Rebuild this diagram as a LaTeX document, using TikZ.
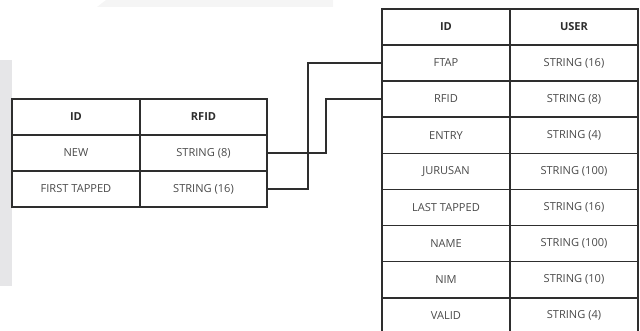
\documentclass[tikz,border=0pt]{standalone}
\usepackage{fontspec}
\setmainfont{Open Sans}
\definecolor{linec}{HTML}{2E2E2E}
\definecolor{bodytxt}{HTML}{4A4A4A}
\definecolor{headtxt}{HTML}{2E2E2E}
\definecolor{bandgray}{HTML}{E6E6E8}
\definecolor{bandlight}{HTML}{F5F5F5}
\tikzset{
  cellbox/.style={draw=linec, line width=1.15pt, rectangle, inner sep=0pt,
    minimum height=27.075pt, font=\fontsize{8.3}{9}\selectfont, text=bodytxt},
  rcell/.style={cellbox, minimum width=96pt},
  lcellA/.style={cellbox, minimum width=96pt, minimum height=27pt},
  lcellB/.style={cellbox, minimum width=95.25pt, minimum height=27pt},
  headcell/.style={font=\fontsize{8.3}{9}\selectfont\bfseries, text=headtxt},
  link/.style={draw=linec, line width=1.15pt}
}
\begin{document}
\begin{tikzpicture}[x=0.75pt, y=-0.75pt]
\useasboundingbox (0,0) rectangle (640,331);
\clip (0,0) rectangle (640,331);
% faint background bands
\fill[bandgray] (0,60) rectangle (12,286);
\fill[bandlight] (106,0) -- (333,0) -- (333,7) -- (97,7) -- cycle;

% left table
\node[lcellA, headcell] (lh1) at (76,117) {ID};
\node[lcellB, headcell] (lh2) at (203.5,117) {RFID};
\node[lcellA] (la1) at (76,153) {NEW};
\node[lcellB] (lb1) at (203.5,153) {STRING (8)};
\node[lcellA] (la2) at (76,189) {FIRST TAPPED};
\node[lcellB] (lb2) at (203.5,189) {STRING (16)};

% right table
\node[rcell, headcell] (rh1) at (446,27) {ID};
\node[rcell, headcell] (rh2) at (574,27) {USER};
\node[rcell] (ra1) at (446,63) {FTAP};
\node[rcell] (rb1) at (574,63) {STRING (16)};
\node[rcell] (ra2) at (446,99) {RFID};
\node[rcell] (rb2) at (574,99) {STRING (8)};
\node[rcell] (ra3) at (446,135.35) {ENTRY};
\node[rcell] (rb3) at (574,135.35) {STRING (4)};
\node[rcell] (ra4) at (446,171.45) {JURUSAN};
\node[rcell] (rb4) at (574,171.45) {STRING (100)};
\node[rcell] (ra5) at (446,207.55) {LAST TAPPED};
\node[rcell] (rb5) at (574,207.55) {STRING (16)};
\node[rcell] (ra6) at (446,243.65) {NAME};
\node[rcell] (rb6) at (574,243.65) {STRING (100)};
\node[rcell] (ra7) at (446,279.75) {NIM};
\node[rcell] (rb7) at (574,279.75) {STRING (10)};
\node[rcell] (ra8) at (446,315.85) {VALID};
\node[rcell] (rb8) at (574,315.85) {STRING (4)};

% connectors
\draw[link] (lb1.east) -- ++(58,0) |- (ra2.west);
\draw[link] (lb2.east) -- ++(40,0) |- (ra1.west);
\end{tikzpicture}
\end{document}
